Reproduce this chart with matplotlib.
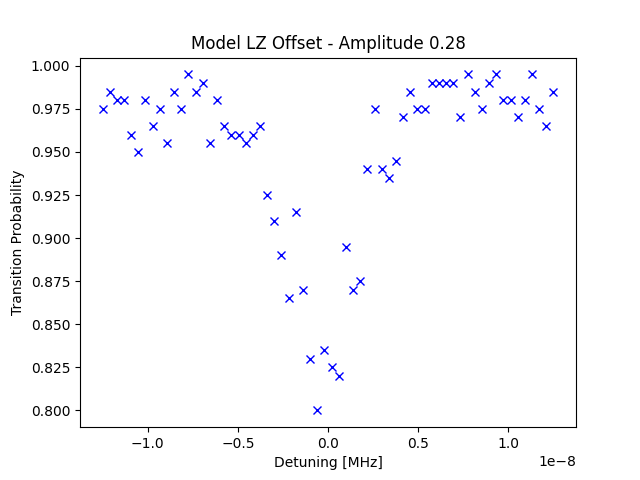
import numpy as np
import matplotlib
matplotlib.use('Agg')
import matplotlib.pyplot as plt

# detuning grid in Hz (axis shows 1e-8 offset)
detuning = np.linspace(-1.25e-8, 1.25e-8, 64)

prob = [0.975, 0.985, 0.98, 0.98, 0.96, 0.95, 0.98, 0.965, 0.975, 0.955, 0.985, 0.975,
        0.995, 0.985, 0.99, 0.955, 0.98, 0.965, 0.96, 0.96, 0.955, 0.96, 0.965,
        0.925, 0.91, 0.89, 0.865, 0.915, 0.87, 0.83, 0.80, 0.835, 0.825, 0.82,
        0.895, 0.87, 0.875, 0.94, 0.975, 0.94, 0.935, 0.945, 0.97, 0.985, 0.975,
        0.975, 0.99, 0.99, 0.99, 0.99, 0.97, 0.995, 0.985, 0.975, 0.99, 0.995,
        0.98, 0.98, 0.97, 0.98, 0.995, 0.975, 0.965, 0.985, 0.985][:64]

fig, ax = plt.subplots(figsize=(6.4, 4.8), dpi=100)
ax.plot(detuning, prob, 'bx')
ax.set_title('Model LZ Offset - Amplitude 0.28')
ax.set_xlabel('Detuning [MHz]')
ax.set_ylabel('Transition Probability')
fig.savefig('out.png')
